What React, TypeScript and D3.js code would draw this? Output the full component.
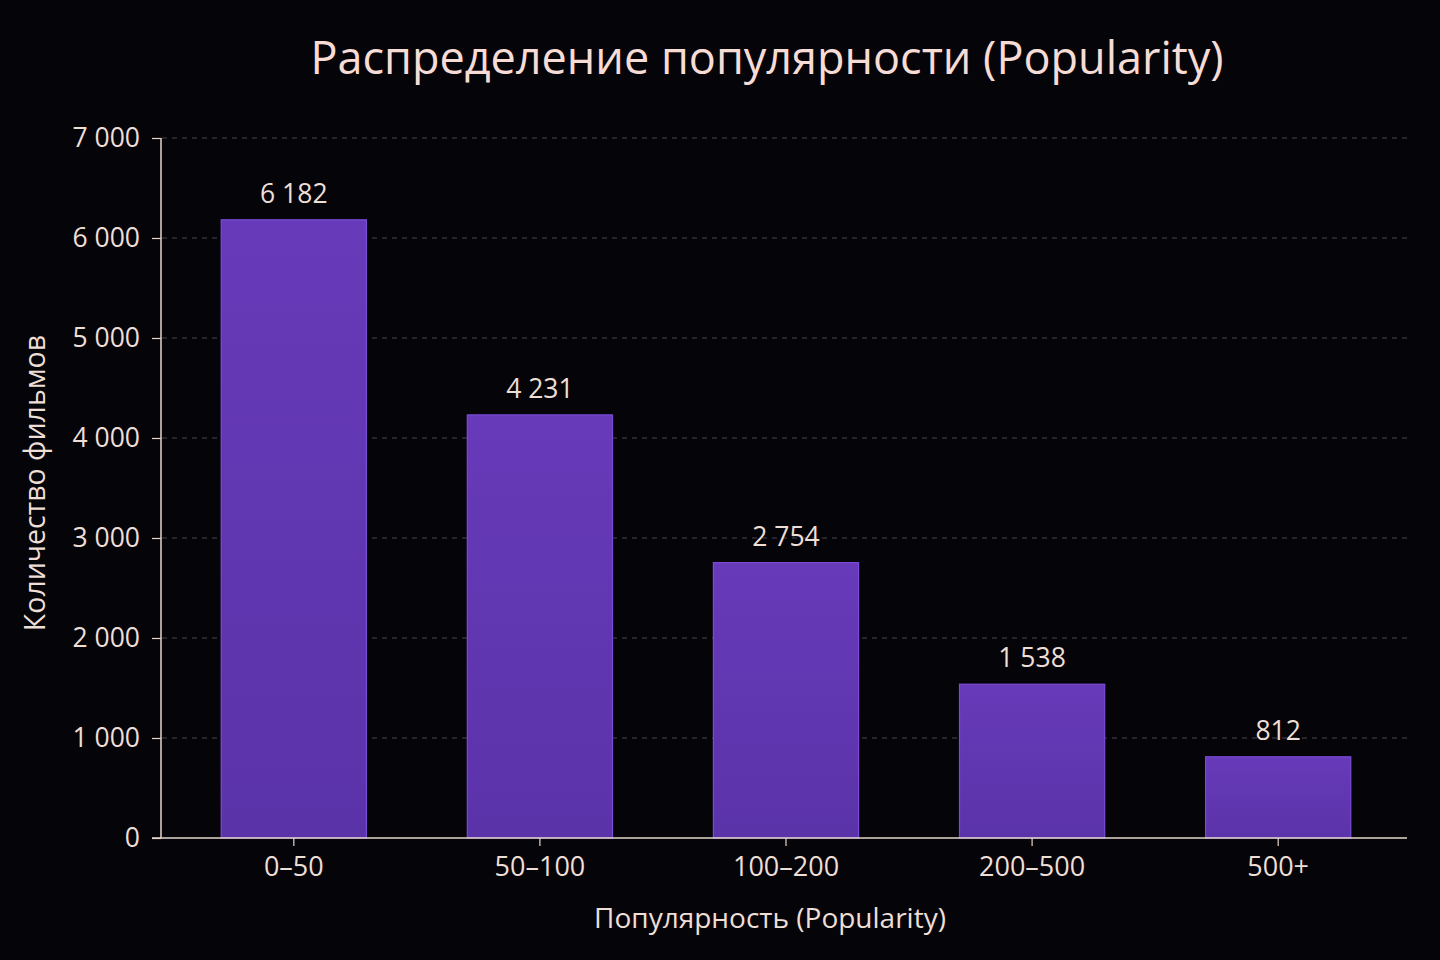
import { useEffect, useRef } from 'react';
import * as d3 from 'd3';

const categories = ['0–50', '50–100', '100–200', '200–500', '500+'];
const counts = [6182, 4231, 2754, 1538, 812];
const yTicks = [0, 1000, 2000, 3000, 4000, 5000, 6000, 7000];

const fmt = (v: number) => d3.format(',')(v).replace(/,/g, ' ');

export default function App() {
  const svgRef = useRef<SVGSVGElement>(null);

  useEffect(() => {
    if (!svgRef.current) return;
    const svg = d3.select(svgRef.current);
    svg.selectAll('*').remove();

    const width = 1440;
    const height = 960;
    const font = '"Open Sans", "Noto Sans", sans-serif';
    const textColor = '#eedfd6';

    svg.append('rect').attr('width', width).attr('height', height).attr('fill', '#050409');

    const defs = svg.append('defs');
    const grad = defs.append('linearGradient')
      .attr('id', 'barGrad')
      .attr('x1', 0).attr('y1', 0).attr('x2', 0).attr('y2', 1);
    grad.append('stop').attr('offset', '0%').attr('stop-color', '#673ab9');
    grad.append('stop').attr('offset', '100%').attr('stop-color', '#5b33a9');

    const x = d3.scaleBand<string>()
      .domain(categories)
      .range([172, 1400])
      .paddingInner(0.41)
      .paddingOuter(0.2);

    const y = d3.scaleLinear().domain([0, 7000]).range([838, 138]);

    // Grid
    svg.append('g')
      .selectAll('line')
      .data(yTicks.filter(t => t > 0))
      .enter()
      .append('line')
      .attr('x1', 162)
      .attr('x2', 1407)
      .attr('y1', d => y(d))
      .attr('y2', d => y(d))
      .attr('stroke', '#4a4650')
      .attr('stroke-width', 1)
      .attr('stroke-dasharray', '5,5');

    // Bars
    svg.append('g')
      .selectAll('rect')
      .data(counts)
      .enter()
      .append('rect')
      .attr('x', (_, i) => x(categories[i])!)
      .attr('y', d => y(d))
      .attr('width', x.bandwidth())
      .attr('height', d => y(0) - y(d))
      .attr('fill', 'url(#barGrad)')
      .attr('stroke', '#7b4bd8')
      .attr('stroke-width', 1.2);

    // Value labels
    svg.append('g')
      .selectAll('text')
      .data(counts)
      .enter()
      .append('text')
      .attr('x', (_, i) => x(categories[i])! + x.bandwidth() / 2)
      .attr('y', d => y(d) - 17)
      .attr('text-anchor', 'middle')
      .attr('fill', textColor)
      .style('font-family', font)
      .style('font-size', '26.5px')
      .text(d => fmt(d));

    // Y axis
    const yAxis = d3.axisLeft(y)
      .tickValues(yTicks)
      .tickSize(9)
      .tickPadding(12)
      .tickFormat(d => fmt(d as number));
    const yg = svg.append('g').attr('transform', 'translate(161,0)').call(yAxis);
    yg.select('.domain').attr('stroke', '#e6d6cc').attr('stroke-width', 1.5).attr('d', 'M0,138V838');
    yg.selectAll('.tick line').attr('stroke', '#e6d6cc').attr('stroke-width', 1.2);
    yg.selectAll('.tick text')
      .attr('fill', textColor)
      .style('font-family', font)
      .style('font-size', '26.5px');

    // X axis
    const xAxis = d3.axisBottom(x).tickSize(8).tickPadding(11);
    const xg = svg.append('g').attr('transform', 'translate(0,838)').call(xAxis);
    xg.select('.domain').attr('stroke', '#e6d6cc').attr('stroke-width', 1.5).attr('d', 'M152,0H1407');
    xg.selectAll('.tick line').attr('stroke', '#e6d6cc').attr('stroke-width', 1.2);
    xg.selectAll('.tick text')
      .attr('fill', textColor)
      .style('font-family', font)
      .style('font-size', '27px');

    // Title
    svg.append('text')
      .attr('x', 767)
      .attr('y', 74)
      .attr('text-anchor', 'middle')
      .attr('fill', '#f6dcd4')
      .style('font-family', font)
      .style('font-size', '45px')
      .text('Распределение популярности (Popularity)');

    // Axis labels
    svg.append('text')
      .attr('x', 770)
      .attr('y', 928)
      .attr('text-anchor', 'middle')
      .attr('fill', textColor)
      .style('font-family', font)
      .style('font-size', '28px')
      .text('Популярность (Popularity)');

    svg.append('text')
      .attr('transform', 'translate(45,483) rotate(-90)')
      .attr('text-anchor', 'middle')
      .attr('fill', textColor)
      .style('font-family', font)
      .style('font-size', '28.5px')
      .text('Количество фильмов');
  }, []);

  return (
    <svg
      ref={svgRef}
      width={1440}
      height={960}
      style={{ position: 'absolute', left: 0, top: 0, display: 'block' }}
    />
  );
}
